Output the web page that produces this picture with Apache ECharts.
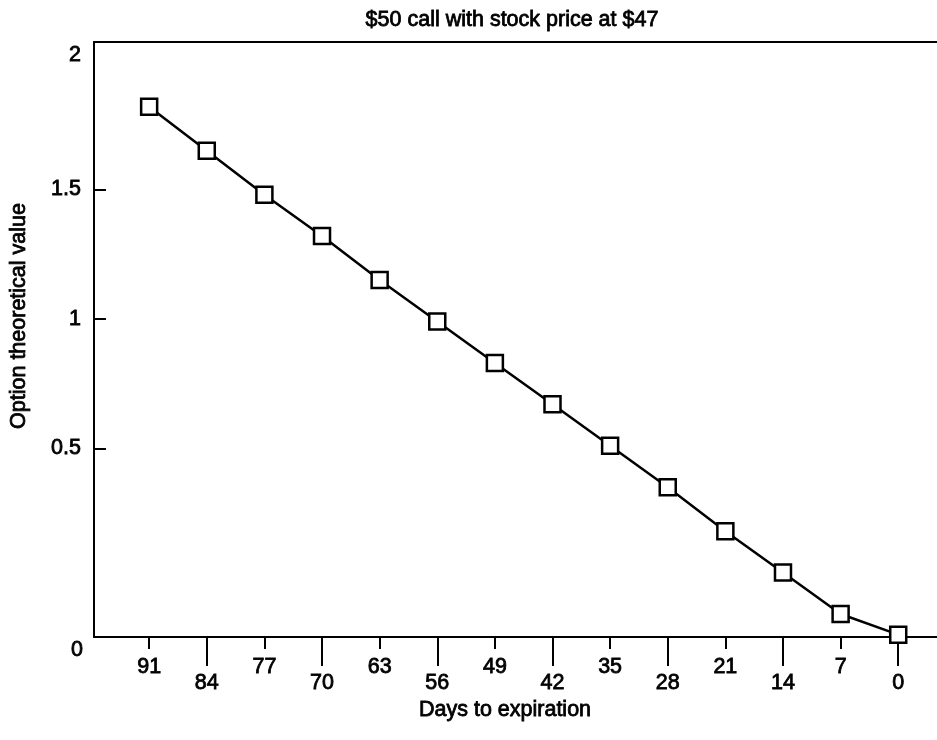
<!DOCTYPE html>
<html>
<head>
<meta charset="utf-8">
<script src="https://cdn.jsdelivr.net/npm/echarts@6/dist/echarts.min.js"></script>
<style>
  html, body { margin: 0; padding: 0; background: #fff; }
  #chart { width: 937px; height: 740px; }
</style>
</head>
<body>
<div id="chart"></div>
<script>
// days to expiration (x) and option value (y, in the 0.5/1/1.5 tick scale)
var days = [91, 84, 77, 70, 63, 56, 49, 42, 35, 28, 21, 14, 7, 0];
var optionValue = [1.82, 1.65, 1.48, 1.32, 1.15, 0.99, 0.83, 0.67, 0.51, 0.35, 0.18, 0.02, -0.14, -0.22];
// labels alternate between two rows under the axis
var upperDays = [91, 77, 63, 49, 35, 21, 7];
var lowerDays = [84, 70, 56, 42, 28, 14, 0];
var yTicks = [0.5, 1, 1.5];
var yLabels = [0.5, 1, 1.5, 2];

var FONT = "'Liberation Sans', Arial, Helvetica, sans-serif";
var FS = 21.5;
// scanned print looks a little heavy, thin outline on text
var heavy = { textBorderColor: "#000", textBorderWidth: 0.8 };

var myChart = echarts.init(document.getElementById("chart"));

function xAxisBase() {
  return {
    type: "value",
    min: -4.71,
    max: 97.7,
    inverse: true,
    splitLine: { show: false },
  };
}

function labelStyle(values, margin) {
  return Object.assign({
    show: true,
    customValues: values,
    margin: margin,
    color: "#000",
    fontSize: FS,
    fontFamily: FONT,
  }, heavy);
}

var xBottomUpper = xAxisBase();
xBottomUpper.position = "bottom";
xBottomUpper.axisLine = { show: true, onZero: false, lineStyle: { color: "#000", width: 2 } };
xBottomUpper.axisTick = { show: true, customValues: upperDays, length: 12, lineStyle: { color: "#000", width: 2 } };
xBottomUpper.axisLabel = labelStyle(upperDays, 19);

var xBottomLower = xAxisBase();
xBottomLower.position = "bottom";
xBottomLower.axisLine = { show: false, onZero: false };
xBottomLower.axisTick = { show: true, customValues: lowerDays, length: 29, lineStyle: { color: "#000", width: 2 } };
xBottomLower.axisLabel = labelStyle(lowerDays, 35);

var xTop = xAxisBase();
xTop.position = "top";
xTop.axisLine = { show: true, onZero: false, lineStyle: { color: "#000", width: 2 } };
xTop.axisTick = { show: false };
xTop.axisLabel = { show: false };

var yLabel = labelStyle(yLabels, 13);
yLabel.formatter = function (v) {
  return v === 2 ? "{up|2}" : String(v);
};
yLabel.rich = {
  up: Object.assign({ fontSize: FS, fontFamily: FONT, color: "#000", padding: [0, 0, 11, 0] }, heavy),
};

function textEl(extra, style) {
  return Object.assign({ type: "text" }, extra, {
    style: Object.assign({ fill: "#000", font: FS + "px " + FONT, stroke: "#000", lineWidth: 0.8 }, style),
  });
}

var option = {
  animation: false,
  backgroundColor: "#fff",
  grid: {
    left: 94,
    right: 0,
    top: 42,
    bottom: 103,
    containLabel: false,
    outerBoundsMode: "none",
  },
  graphic: [
    textEl({ x: 512, y: 20 }, { text: "$50 call with stock price at $47", textAlign: "center", textVerticalAlign: "middle" }),
    textEl({ x: 505, y: 710 }, { text: "Days to expiration", textAlign: "center", textVerticalAlign: "middle" }),
    textEl({ x: 19, y: 316, rotation: Math.PI / 2 }, { text: "Option theoretical value", textAlign: "center", textVerticalAlign: "middle" }),
    textEl({ x: 83, y: 650 }, { text: "0", textAlign: "right", textVerticalAlign: "middle" }),
  ],
  xAxis: [xBottomUpper, xBottomLower, xTop],
  yAxis: {
    type: "value",
    min: -0.229,
    max: 2.07,
    splitLine: { show: false },
    axisLine: { show: true, onZero: false, lineStyle: { color: "#000", width: 2 } },
    axisTick: { show: true, inside: true, customValues: yTicks, length: 12, lineStyle: { color: "#000", width: 2 } },
    axisLabel: yLabel,
  },
  series: [
    {
      type: "line",
      xAxisIndex: 0,
      yAxisIndex: 0,
      clip: false,
      data: days.map(function (d, i) { return [d, optionValue[i]]; }),
      symbol: "rect",
      symbolSize: 16,
      showAllSymbol: true,
      lineStyle: { color: "#000", width: 2.5 },
      itemStyle: { color: "#fff", borderColor: "#000", borderWidth: 2.5 },
    },
  ],
};
myChart.setOption(option);
</script>
</body>
</html>
